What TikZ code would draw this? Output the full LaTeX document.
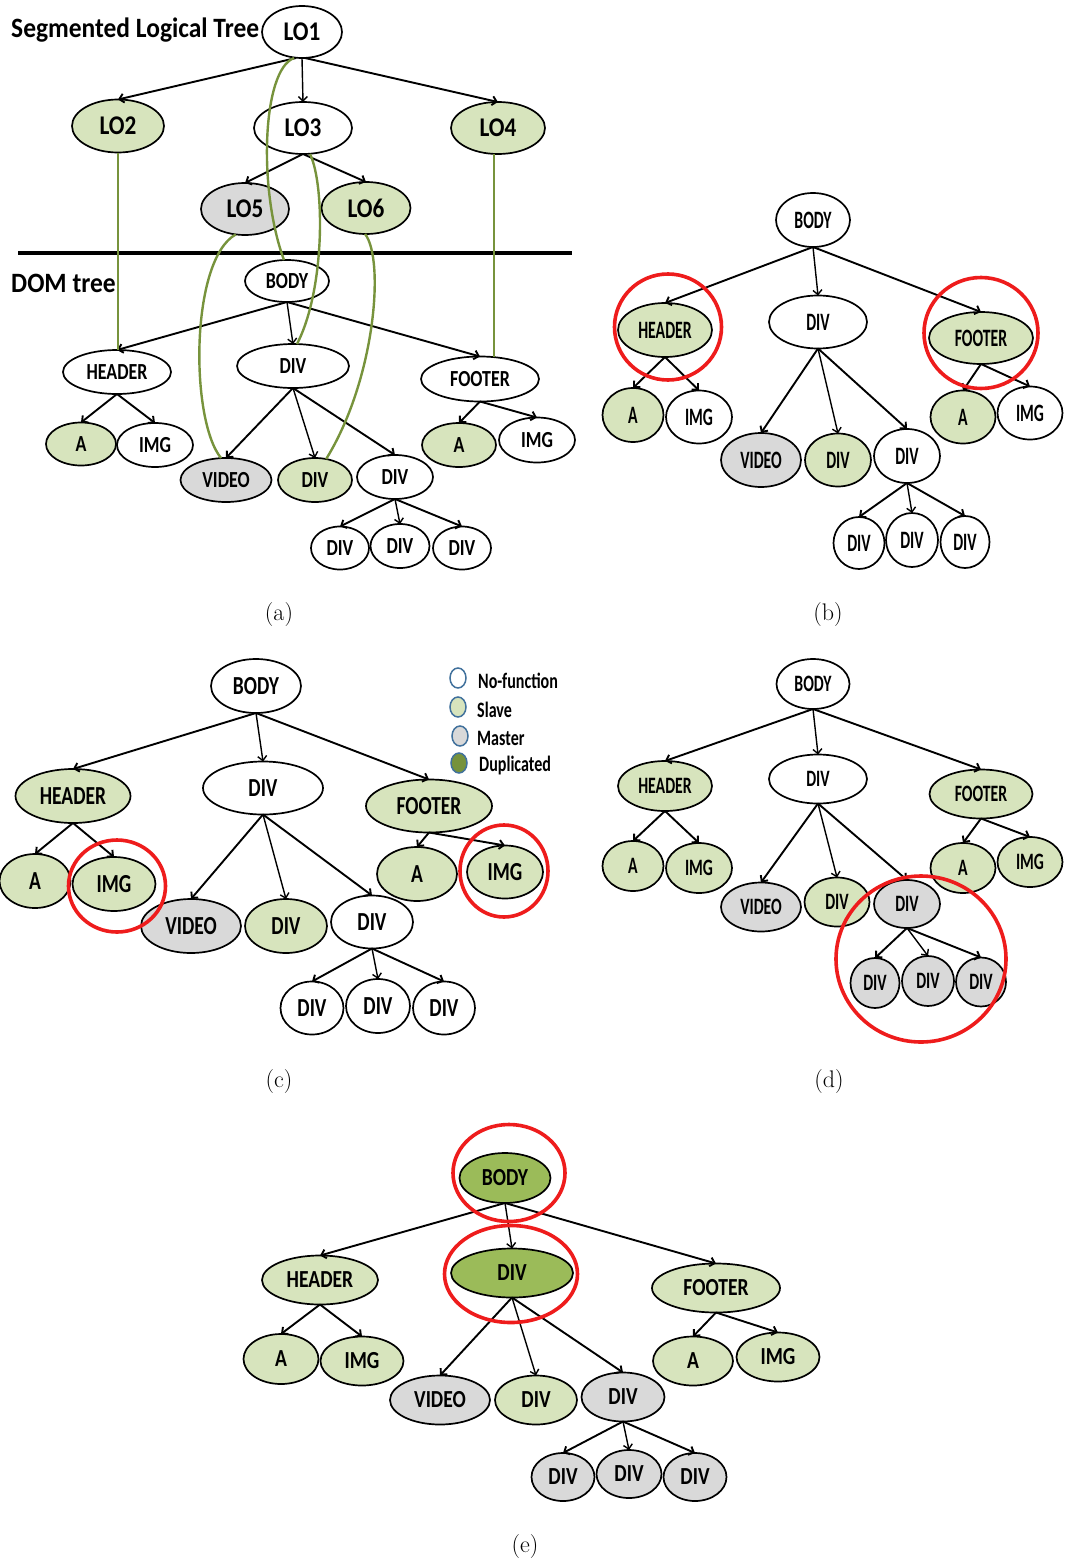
\documentclass[tikz,border=0pt]{standalone}
\usepackage{fontspec}
\usetikzlibrary{shapes.geometric,arrows.meta}
\newfontfamily\fntT{Carlito}[UprightFont={* Bold},FakeStretch=0.91]
\newfontfamily\fntLO{Carlito}[UprightFont={* Bold},FakeStretch=0.86]
\newfontfamily\fntA{Carlito}[UprightFont={* Bold},FakeStretch=0.78]
\newfontfamily\fntB{Carlito}[UprightFont={* Bold},FakeStretch=0.63]
\newfontfamily\fntC{Carlito}[UprightFont={* Bold},FakeStretch=0.75]
\newfontfamily\fntD{Carlito}[UprightFont={* Bold},FakeStretch=0.67]
\newfontfamily\fntE{Carlito}[UprightFont={* Bold},FakeStretch=0.80]
\newfontfamily\fntL{Carlito}[UprightFont={* Bold},FakeStretch=0.73]
\definecolor{lg}{HTML}{D7E4BD}
\definecolor{gy}{HTML}{D9D9D9}
\definecolor{dup}{HTML}{9BBB59}
\definecolor{dupl}{HTML}{76923C}
\definecolor{gline}{HTML}{77933C}
\definecolor{lb}{HTML}{41719C}
\definecolor{rring}{HTML}{EE1C1C}
\newcommand\domedges[1]{%
  \draw[arr] (body-#1.south) -- (hdr-#1.north);
  \draw[tarr] (body-#1.south) -- (div-#1.north);
  \draw[arr] (body-#1.south) -- (ftr-#1.north);
  \draw[arr] (hdr-#1.south) -- (a1-#1.north);
  \draw[arr] (hdr-#1.south) -- (img1-#1.north);
  \draw[arr] (div-#1.south) -- (vid-#1.north);
  \draw[tarr] (div-#1.south) -- (dg-#1.north);
  \draw[arr] (div-#1.south) -- (dw-#1.north);
  \draw[arr] (dw-#1.south) -- (d1-#1.north);
  \draw[tarr] (dw-#1.south) -- (d2-#1.north);
  \draw[arr] (dw-#1.south) -- (d3-#1.north);
  \draw[arr] (ftr-#1.south) -- (a2-#1.north);
  \draw[arr] (ftr-#1.south) -- (img2-#1.north);
}
\begin{document}
\begin{tikzpicture}[x=1pt,y=-1pt,
  ell/.style 2 args={ellipse, draw=black, line width=1.7pt, minimum width=2*#1, minimum height=2*#2, inner sep=0pt, outer sep=0pt},
  arr/.style={line width=1.9pt, -{Straight Barb[length=4.5pt,width=9pt]}},
  tarr/.style={line width=1.4pt, -{Straight Barb[length=4.5pt,width=9pt]}},
  grn/.style={draw=gline, line width=2.4pt},
  ring/.style 2 args={ellipse, draw=rring, line width=3.6pt, minimum width=2*#1, minimum height=2*#2, inner sep=0pt},
  lgd/.style={ellipse, draw=lb, line width=1.5pt, minimum width=16, minimum height=20, inner sep=0pt},
  captxt/.style={font=\fontsize{24}{24}\selectfont}]
\useasboundingbox (0,0) rectangle (1065,1563);

% ---------------- panel (a) ----------------
\node[anchor=base west, inner sep=0pt, font=\fntT\fontsize{28}{28}\selectfont] (ttl) at (11,38) {Segmented Logical Tree};
\node[anchor=base west, inner sep=0pt, font=\fntT\fontsize{28}{28}\selectfont] (domt) at (11,292) {DOM tree};
\draw[line width=4pt] (18,253) coordinate (sepL) -- (572,253) coordinate (sepR);
\begin{scope}[every node/.append style={font=\fntLO\fontsize{27}{27}\selectfont}]
\node[ell={40}{26}, fill=white] (lo1) at (302,32) {LO1};
\node[ell={46}{26.5}, fill=lg] (lo2) at (118,126) {LO2};
\node[ell={49}{26}, fill=white] (lo3) at (303,128) {LO3};
\node[ell={47}{26}, fill=lg] (lo4) at (498,128) {LO4};
\node[ell={44}{26}, fill=gy] (lo5) at (245,209) {LO5};
\node[ell={44.5}{26}, fill=lg] (lo6) at (366,208) {LO6};
\end{scope}
\draw[arr] ([xshift=-6pt]lo1.south) -- (lo2.north);
\draw[tarr] (lo1.south) -- (lo3.north);
\draw[arr] ([xshift=3pt]lo1.south) -- (lo4.north);
\draw[arr] (lo3.south) -- (lo5.north);
\draw[arr] (lo3.south) -- (lo6.north);
\begin{scope}[every node/.append style={font=\fntA\fontsize{23}{23}\selectfont}]
\node[ell={42}{21}, fill=white] (body-a) at (287,281) {BODY};
\node[ell={54}{22}, fill=white] (hdr-a) at (117,372) {HEADER};
\node[ell={56}{22}, fill=white] (div-a) at (293,366) {DIV};
\node[ell={59}{22.5}, fill=white] (ftr-a) at (480,379) {FOOTER};
\node[ell={35}{21.5}, fill=lg] (a1-a) at (81,444) {A};
\node[ell={38}{22}, fill=white] (img1-a) at (155,445) {IMG};
\node[ell={45.5}{22}, fill=gy] (vid-a) at (226,480) {VIDEO};
\node[ell={37}{22}, fill=lg] (dg-a) at (315,480) {DIV};
\node[ell={38}{22}, fill=white] (dw-a) at (395,477) {DIV};
\node[ell={29}{21.5}, fill=white] (d1-a) at (340,548) {DIV};
\node[ell={29.5}{22}, fill=white] (d2-a) at (400,546) {DIV};
\node[ell={29}{21.5}, fill=white] (d3-a) at (462,548) {DIV};
\node[ell={37}{22}, fill=lg] (a2-a) at (459,445) {A};
\node[ell={38}{22.5}, fill=white] (img2-a) at (537,440) {IMG};
\end{scope}
\domedges{a}
% green mapping lines
\draw[grn] (lo2.south) -- (lo2.south |- hdr-a.north);
\draw[grn] ([xshift=-4pt]lo4.south) -- ([xshift=-4pt]lo4.south |- ftr-a.north);
\draw[grn] ([xshift=-8pt]lo1.south) .. controls (262,70) and (258,190) .. ([xshift=-3pt]body-a.north);
\draw[grn] ([xshift=7pt]lo3.south) .. controls (325,185) and (325,290) .. ([xshift=4pt]div-a.north);
\draw[grn] (lo5.250) .. controls (190,260) and (190,420) .. ([xshift=-5pt]vid-a.north);
\draw[grn] (lo6.268) .. controls (385,260) and (375,380) .. (dg-a.62);
\node[captxt] (capa) at (279,615) {(a)};

% ---------------- panel (b) ----------------
\begin{scope}[every node/.append style={font=\fntB\fontsize{25}{25}\selectfont}]
\node[ell={37}{27}, fill=white] (body-b) at (813,220) {BODY};
\node[ell={47}{27}, fill=lg] (hdr-b) at (665,330) {HEADER};
\node[ell={49}{26.5}, fill=white] (div-b) at (818,322) {DIV};
\node[ell={52}{26}, fill=lg] (ftr-b) at (981,338) {FOOTER};
\node[ell={30.5}{27}, fill=lg] (a1-b) at (633,415) {A};
\node[ell={33}{26.5}, fill=white] (img1-b) at (699,417) {IMG};
\node[ell={40}{27}, fill=gy] (vid-b) at (761,460) {VIDEO};
\node[ell={33}{26.5}, fill=lg] (dg-b) at (838,460) {DIV};
\node[ell={33}{27}, fill=white] (dw-b) at (907,456) {DIV};
\node[ell={25.5}{26}, fill=white] (d1-b) at (859,543) {DIV};
\node[ell={26}{27}, fill=white] (d2-b) at (912,540) {DIV};
\node[ell={24.5}{26}, fill=white] (d3-b) at (965,542) {DIV};
\node[ell={32.5}{26.5}, fill=lg] (a2-b) at (963,417) {A};
\node[ell={32.5}{26.5}, fill=white] (img2-b) at (1030,413) {IMG};
\end{scope}
\domedges{b}
\node[ring={53.5}{53}] (rb1) at (668,327) {};
\node[ring={57}{55.5}] (rb2) at (981,333) {};
\node[captxt] (capb) at (828,615) {(b)};

% ---------------- panel (c) ----------------
\begin{scope}[every node/.append style={font=\fntC\fontsize{26}{26}\selectfont}]
\node[ell={45}{27}, fill=white] (body-c) at (256,686) {BODY};
\node[ell={57.5}{27}, fill=lg] (hdr-c) at (73,796) {HEADER};
\node[ell={60}{26.5}, fill=white] (div-c) at (263,788) {DIV};
\node[ell={63}{26.5}, fill=lg] (ftr-c) at (429,806) {FOOTER};
\node[ell={35.5}{27}, fill=lg] (a1-c) at (35,881) {A};
\node[ell={41.5}{27}, fill=lg] (img1-c) at (114,884) {IMG};
\node[ell={50}{27}, fill=gy] (vid-c) at (191,926) {VIDEO};
\node[ell={41}{27}, fill=lg] (dg-c) at (286,926) {DIV};
\node[ell={41}{26.5}, fill=white] (dw-c) at (372,922) {DIV};
\node[ell={31.5}{26.5}, fill=white] (d1-c) at (312,1008) {DIV};
\node[ell={32}{27}, fill=white] (d2-c) at (378,1006) {DIV};
\node[ell={31}{26.5}, fill=white] (d3-c) at (444,1008) {DIV};
\node[ell={40}{27}, fill=lg] (a2-c) at (417,874) {A};
\node[ell={38}{26.5}, fill=lg] (img2-c) at (505,872) {IMG};
\end{scope}
\domedges{c}
\node[ring={48.5}{46}] (rc1) at (117,886) {};
\node[ring={44}{46}] (rc2) at (504,871) {};
% legend
\node[lgd, fill=white] (l1) at (458,678) {};
\node[lgd, fill=lg] (l2) at (458,707) {};
\node[lgd, fill=gy] (l3) at (460,736) {};
\node[lgd, fill=dupl] (l4) at (459,763) {};
\begin{scope}[every node/.append style={anchor=base west, inner sep=0pt, font=\fntL\fontsize{22}{22}\selectfont}]
\node (t1) at (478,688) {No-function};
\node (t2) at (477,717) {Slave};
\node (t3) at (477,745) {Master};
\node (t4) at (479,771) {Duplicated};
\end{scope}
\node[captxt] (capc) at (279,1081) {(c)};

% ---------------- panel (d) ----------------
\begin{scope}[every node/.append style={font=\fntD\fontsize{23.5}{23.5}\selectfont}]
\node[ell={36.5}{25}, fill=white] (body-d) at (813,684) {BODY};
\node[ell={47}{25}, fill=lg] (hdr-d) at (665,786) {HEADER};
\node[ell={49}{24.5}, fill=white] (div-d) at (818,779) {DIV};
\node[ell={51.5}{24.5}, fill=lg] (ftr-d) at (981,794) {FOOTER};
\node[ell={30.5}{25}, fill=lg] (a1-d) at (633,866) {A};
\node[ell={33}{25}, fill=lg] (img1-d) at (699,868) {IMG};
\node[ell={40}{24.5}, fill=gy] (vid-d) at (761,907) {VIDEO};
\node[ell={32.5}{24.5}, fill=lg] (dg-d) at (837,902) {DIV};
\node[ell={33}{24}, fill=gy] (dw-d) at (907,904) {DIV};
\node[ell={24.5}{25}, fill=gy] (d1-d) at (875,983) {DIV};
\node[ell={26}{25}, fill=gy] (d2-d) at (928,981) {DIV};
\node[ell={25}{24.5}, fill=gy] (d3-d) at (981,982) {DIV};
\node[ell={32.5}{25}, fill=lg] (a2-d) at (963,868) {A};
\node[ell={32.5}{25}, fill=lg] (img2-d) at (1030,862) {IMG};
\end{scope}
\domedges{d}
\node[ring={85}{83}] (rd) at (921,959) {};
\node[captxt] (capd) at (829,1081) {(d)};

% ---------------- panel (e) ----------------
\begin{scope}[every node/.append style={font=\fntE\fontsize{24.5}{24.5}\selectfont}]
\node[ell={45.5}{25}, fill=dup] (body-e) at (505,1178) {BODY};
\node[ell={58}{24.5}, fill=lg] (hdr-e) at (320,1280) {HEADER};
\node[ell={61}{24.5}, fill=dup] (div-e) at (512,1273) {DIV};
\node[ell={64}{24.5}, fill=lg] (ftr-e) at (716,1288) {FOOTER};
\node[ell={37.5}{25}, fill=lg] (a1-e) at (281,1359) {A};
\node[ell={41.5}{24.5}, fill=lg] (img1-e) at (362,1361) {IMG};
\node[ell={50}{24.5}, fill=gy] (vid-e) at (440,1400) {VIDEO};
\node[ell={41}{24.5}, fill=lg] (dg-e) at (536,1400) {DIV};
\node[ell={41.5}{24.5}, fill=gy] (dw-e) at (623,1397) {DIV};
\node[ell={31.5}{24}, fill=gy] (d1-e) at (563,1477) {DIV};
\node[ell={32.5}{24}, fill=gy] (d2-e) at (629,1474) {DIV};
\node[ell={31.5}{24}, fill=gy] (d3-e) at (695,1477) {DIV};
\node[ell={40}{24.5}, fill=lg] (a2-e) at (693,1361) {A};
\node[ell={41.5}{24.5}, fill=lg] (img2-e) at (778,1357) {IMG};
\end{scope}
\domedges{e}
\node[ring={56}{48.5}] (re1) at (509,1173) {};
\node[ring={66.5}{48.5}] (re2) at (511,1274) {};
\node[captxt] (cape) at (525,1546) {(e)};
\end{tikzpicture}
\end{document}
